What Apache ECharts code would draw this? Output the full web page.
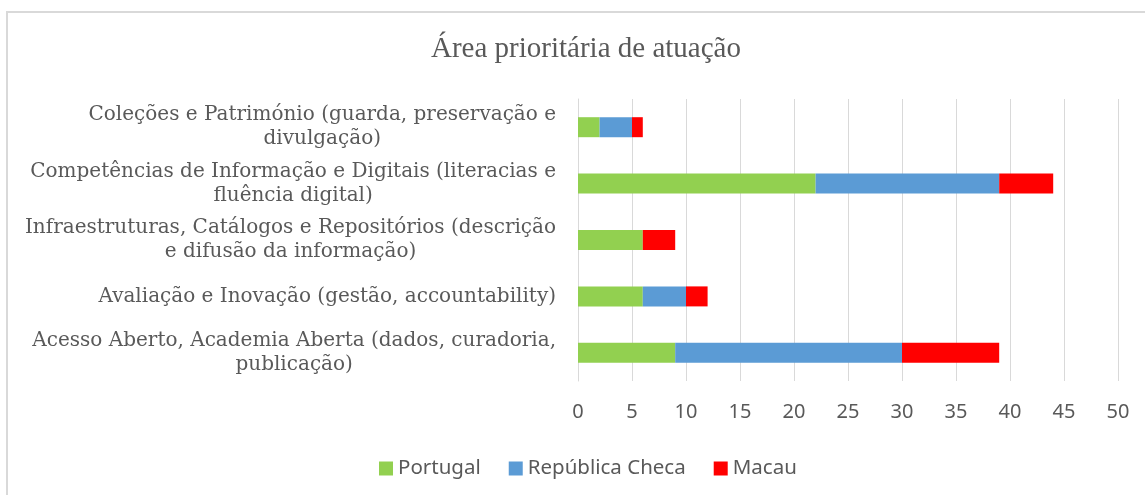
<!DOCTYPE html>
<html>
<head>
<meta charset="utf-8">
<script src="https://cdn.jsdelivr.net/npm/echarts@6/dist/echarts.min.js"></script>
<style>
  html, body { margin: 0; padding: 0; background: #fff; }
  #chart { width: 1145px; height: 495px; }
</style>
</head>
<body>
<div id="chart"></div>
<script>
// categories from bottom to top (category axis starts at the bottom)
const categories = [
  'Acesso Aberto, Academia Aberta (dados, curadoria,\npublicação)',
  'Avaliação e Inovação (gestão, accountability)',
  'Infraestruturas, Catálogos e Repositórios (descrição\ne difusão da informação)',
  'Competências de Informação e Digitais (literacias e\nfluência digital)',
  'Coleções e Património (guarda, preservação e\ndivulgação)'
]
const seriesNames = ['Portugal', 'República Checa', 'Macau']
const portugal = [9, 6, 6, 22, 2]
const republicaCheca = [21, 4, 0, 17, 3]
const macau = [9, 2, 3, 5, 1]
const colors = ['#92d050', '#5b9bd5', '#ff0000']

const myChart = echarts.init(document.getElementById('chart'))

const makeSeries = (name, data, color) => ({
  name,
  type: 'bar',
  stack: 'total',
  barWidth: 20,
  itemStyle: { color },
  data
})

const option = {
  animation: false,
  title: {
    text: 'Área prioritária de atuação',
    left: 426,
    top: 30,
    textStyle: {
      fontFamily: 'Liberation Serif',
      fontWeight: 'normal',
      fontSize: 29,
      color: '#595959'
    }
  },
  legend: {
    left: 374,
    top: 453,
    itemWidth: 14,
    itemHeight: 14,
    itemGap: 28,
    icon: 'rect',
    textStyle: { fontFamily: 'Noto Sans', fontSize: 20.5, color: '#595959' },
    data: seriesNames
  },
  grid: {
    left: 578,
    right: 27,
    top: 99,
    bottom: 114,
    containLabel: false
  },
  xAxis: {
    type: 'value',
    min: 0,
    max: 50,
    interval: 5,
    axisLine: { show: false },
    axisTick: { show: false },
    splitLine: { lineStyle: { color: '#d9d9d9', width: 1 } },
    axisLabel: {
      margin: 21,
      fontFamily: 'Noto Sans',
      fontSize: 20,
      color: '#595959'
    }
  },
  yAxis: {
    type: 'category',
    data: categories,
    axisTick: { show: false },
    axisLine: { lineStyle: { color: '#d9d9d9' } },
    axisLabel: {
      margin: 22,
      formatter: (value) => `{c|${value}}`,
      rich: {
        c: {
          align: 'center',
          fontFamily: 'DejaVu Serif',
          fontSize: 20,
          lineHeight: 24,
          color: '#595959'
        }
      }
    }
  },
  graphic: [{
    type: 'rect',
    shape: { x: 7, y: 12, width: 1150, height: 500 },
    style: { fill: 'none', stroke: '#d9d9d9', lineWidth: 2 },
    silent: true
  }],
  series: [
    makeSeries(seriesNames[0], portugal, colors[0]),
    makeSeries(seriesNames[1], republicaCheca, colors[1]),
    makeSeries(seriesNames[2], macau, colors[2])
  ]
}

myChart.setOption(option)
</script>
</body>
</html>
